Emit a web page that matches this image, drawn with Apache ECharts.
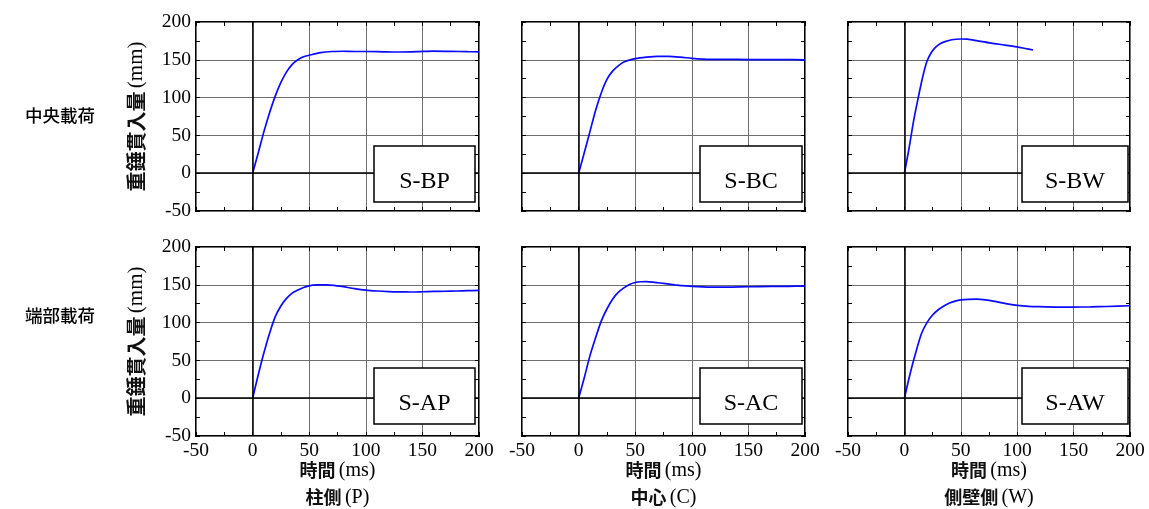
<!DOCTYPE html>
<html>
<head>
<meta charset="utf-8">
<script src="https://cdn.jsdelivr.net/npm/echarts@6.0.0/dist/echarts.min.js"></script>
<style>
  html, body { margin: 0; padding: 0; background: #fff; }
  #chart { width: 1149px; height: 509px; }
</style>
</head>
<body>
<div id="chart"></div>
<script>
// Drop-hammer penetration (mm) against time (ms), one pair of arrays per specimen.
const timeBP = [0, 5, 10, 15, 20, 25, 30, 35, 40, 45, 50, 60, 70, 80, 90, 100, 115, 130, 145, 160, 175, 190, 200];
const penBP  = [0, 27, 55, 80, 102, 120, 134, 144, 150, 154, 156, 159.5, 161, 161.3, 161, 161, 160.6, 160.3, 160.7, 161.5, 161.2, 160.7, 160.6];

const timeBC = [0, 5, 10, 15, 20, 25, 30, 35, 40, 50, 60, 70, 80, 90, 100, 110, 120, 140, 160, 180, 200];
const penBC  = [0, 27, 55, 83, 106, 124, 135, 142, 147, 151.5, 153.5, 154.5, 154.5, 153.5, 152, 151, 150.5, 150.5, 150.2, 150.3, 150];

const timeBW = [0, 4, 8, 12, 16, 20, 24, 28, 32, 36, 42, 50, 56, 65, 77, 89, 100, 107, 114];
const penBW  = [0, 32, 68, 98, 126, 148, 160, 167, 171.5, 174, 176.5, 177.5, 177.3, 175, 172, 169.5, 167, 165, 163];

const timeAP = [0, 5, 10, 15, 20, 25, 30, 35, 40, 45, 50, 57, 65, 72, 80, 90, 100, 110, 120, 130, 140, 150, 160, 170, 180, 190, 200];
const penAP  = [0, 31, 60, 86, 108, 122, 132, 139, 143, 146.5, 148.6, 149.8, 150, 149.3, 147.5, 145, 143, 141.8, 141, 140.6, 140.5, 140.8, 141.2, 141.5, 141.8, 142.2, 142.5];

const timeAC = [0, 5, 10, 15, 20, 25, 30, 35, 40, 45, 50, 55, 60, 67, 75, 85, 95, 105, 120, 135, 150, 170, 185, 200];
const penAC  = [0, 27, 56, 80, 102, 118, 131, 140, 146, 150.5, 153, 154, 154.3, 153.3, 151.8, 150, 148.5, 147.5, 146.8, 147, 147.4, 147.8, 148, 148.3];

const timeAW = [0, 5, 10, 15, 20, 25, 30, 35, 40, 45, 50, 57, 64, 72, 80, 90, 100, 110, 120, 135, 150, 165, 180, 200];
const penAW  = [0, 32, 60, 85, 100, 110, 117, 122, 126, 128.5, 130, 130.8, 131, 130, 128, 125, 122.8, 121.5, 121, 120.6, 120.6, 120.8, 121.3, 122.3];

const specimenNames = ['S-BP', 'S-BC', 'S-BW', 'S-AP', 'S-AC', 'S-AW'];
const specimenTimes = [timeBP, timeBC, timeBW, timeAP, timeAC, timeAW];
const specimenPens  = [penBP, penBC, penBW, penAP, penAC, penAW];

const rowTitles = ['中央載荷', '端部載荷'];
const colTitlesJa = ['柱側', '中心', '側壁側'];
const colTitlesEn = ['(P)', '(C)', '(W)'];
const xNameJa = '時間';
const xNameEn = '(ms)';
const yNameJa = '重錘貫入量';
const yNameEn = '(mm)';

// Panel layout (pixels)
const gridLeft = [196, 522, 848];
const gridWidth = [283, 283, 282];
const gridTop = [22, 247];
const gridHeight = 189;
const boxWidth = [101, 102, 106];
const boxRightGap = [4, 3, 2];
const boxTopOffset = [124, 121];
const boxHeight = 56;

const SERIF = '"Liberation Serif", "DejaVu Serif", serif';
const CJK = '"Noto Sans CJK JP", "Noto Sans CJK SC", sans-serif';

const chart = echarts.init(document.getElementById('chart'), null, { renderer: 'canvas' });

const grids = [], xAxes = [], yAxes = [], series = [], graphics = [];

const tickCommon = {
  axisTick: { show: true, inside: true, length: 4, lineStyle: { color: '#000', width: 1 } },
  minorTick: { show: true, splitNumber: 2, length: 4, lineStyle: { color: '#000', width: 1 } },
  axisLine: { show: false, onZero: false }
};

for (let i = 0; i < 6; i++) {
  const row = Math.floor(i / 3), col = i % 3;
  grids.push({
    left: gridLeft[col], top: gridTop[row], width: gridWidth[col], height: gridHeight,
    show: true, borderColor: '#000', borderWidth: 2, backgroundColor: 'transparent',
    containLabel: false, outerBoundsMode: 'none'
  });

  const showX = row === 1;
  const showY = col === 0;

  // bottom x axis (carries the data)
  xAxes.push(Object.assign({
    type: 'value', gridIndex: i, position: 'bottom', min: -50, max: 200, interval: 50,
    splitLine: { show: true, lineStyle: { color: '#6f6f6f', width: 1 } },
    axisLabel: { show: showX, fontFamily: SERIF, fontSize: 19.5, color: '#000', margin: 5 },
    name: showX ? `{j|${xNameJa}} {e|${xNameEn}}\n{j|${colTitlesJa[col]}} {e|${colTitlesEn[col]}}` : '',
    nameLocation: 'middle', nameGap: 21, nameMoveOverlap: false,
    nameTextStyle: {
      rich: {
        j: { fontFamily: CJK, fontSize: 18, fontWeight: 'bold', color: '#111', lineHeight: 27 },
        e: { fontFamily: SERIF, fontSize: 20, color: '#000', lineHeight: 27 }
      }
    }
  }, tickCommon));
  // top x axis: frame ticks only
  xAxes.push(Object.assign({
    type: 'value', gridIndex: i, position: 'top', min: -50, max: 200, interval: 50,
    splitLine: { show: false }, axisLabel: { show: false }
  }, tickCommon));

  yAxes.push(Object.assign({
    type: 'value', gridIndex: i, position: 'left', min: -50, max: 200, interval: 50,
    splitLine: { show: true, lineStyle: { color: '#6f6f6f', width: 1 } },
    axisLabel: { show: showY, fontFamily: SERIF, fontSize: 19.5, color: '#000', margin: 5 },
    name: showY ? `{j|${yNameJa}} {e|${yNameEn}}` : '',
    nameLocation: 'middle', nameRotate: 90, nameGap: 49, nameMoveOverlap: false,
    nameTextStyle: {
      rich: {
        j: { fontFamily: CJK, fontSize: 20, fontWeight: 'bold', color: '#111' },
        e: { fontFamily: SERIF, fontSize: 21, color: '#000' }
      }
    }
  }, tickCommon));
  yAxes.push(Object.assign({
    type: 'value', gridIndex: i, position: 'right', min: -50, max: 200, interval: 50,
    splitLine: { show: false }, axisLabel: { show: false }
  }, tickCommon));

  const t = specimenTimes[i], p = specimenPens[i];
  series.push({
    type: 'line', name: specimenNames[i], xAxisIndex: i * 2, yAxisIndex: i * 2,
    data: t.map((v, k) => [v, p[k]]),
    showSymbol: false, smooth: 0.25, animation: false,
    lineStyle: { color: '#0a0aff', width: 1.7 },
    markLine: {
      silent: true, symbol: ['none', 'none'], animation: false,
      label: { show: false },
      lineStyle: { color: '#000', width: 1.5, type: 'solid' },
      data: [{ xAxis: 0 }, { yAxis: 0 }]
    }
  });

  // specimen label box
  const bx = gridLeft[col] + gridWidth[col] - boxRightGap[col] - boxWidth[col];
  const by = gridTop[row] + boxTopOffset[row];
  graphics.push({
    type: 'rect', z: 100,
    shape: { x: bx, y: by, width: boxWidth[col], height: boxHeight },
    style: { fill: '#fff', stroke: '#000', lineWidth: 1.5 }
  });
  graphics.push({
    type: 'text', z: 101,
    x: bx + boxWidth[col] / 2, y: by + 36,
    style: {
      text: specimenNames[i], fontFamily: SERIF, fontSize: 24, fill: '#000',
      textAlign: 'center', textVerticalAlign: 'middle'
    }
  });
}

// loading case titles at the left of each row
rowTitles.forEach((txt, r) => {
  graphics.push({
    type: 'text', z: 100, x: 25, y: [115, 315][r],
    style: { text: txt, fontFamily: CJK, fontSize: 17.5, fontWeight: 500, fill: '#000', textVerticalAlign: 'middle' }
  });
});

chart.setOption({
  animation: false,
  backgroundColor: '#fff',
  grid: grids,
  xAxis: xAxes,
  yAxis: yAxes,
  series: series,
  graphic: graphics
});
</script>
</body>
</html>
